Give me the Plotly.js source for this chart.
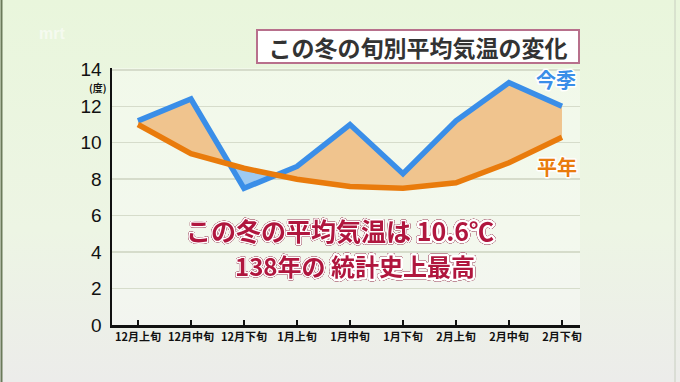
<!DOCTYPE html>
<html><head><meta charset="utf-8">
<script src="https://cdn.plot.ly/plotly-3.0.1.min.js"></script>
<style>
html,body{margin:0;padding:0;}
body{width:680px;height:382px;overflow:hidden;background:linear-gradient(to bottom,#e9f6dc 0%,#edf5e4 60%,#ececea 100%);}
#chart{width:680px;height:382px;}
</style></head>
<body><div id="chart"></div>
<script>
const categories = ['12月上旬','12月中旬','12月下旬','1月上旬','1月中旬','1月下旬','2月上旬','2月中旬','2月下旬'];
const thisSeason = [11.2, 12.4, 7.5, 8.7, 11.0, 8.3, 11.2, 13.3, 12.0];
const normal = [11.0, 9.4, 8.6, 8.0, 7.6, 7.5, 7.8, 8.9, 10.3];
const yTicks = [0, 2, 4, 6, 8, 10, 12, 14];
const seriesNames = ['今季', '平年'];

const idx = categories.map((c, i) => i);
// insert crossing points so the two fills meet exactly where the lines cross
const xa = [], ba = [], oa = [];
for (let i = 0; i < idx.length; i++) {
  xa.push(idx[i]); ba.push(thisSeason[i]); oa.push(normal[i]);
  if (i < idx.length - 1) {
    const d0 = thisSeason[i] - normal[i], d1 = thisSeason[i+1] - normal[i+1];
    if (d0 * d1 < 0) {
      const t = d0 / (d0 - d1);
      xa.push(idx[i] + t);
      const v = normal[i] + t * (normal[i+1] - normal[i]);
      ba.push(v); oa.push(v);
    }
  }
}
const upper = ba.map((b, i) => Math.max(b, oa[i]));
const lower = ba.map((b, i) => Math.min(b, oa[i]));

const CJK = '"Noto Sans CJK JP", sans-serif';
const traces = [
  {x: xa, y: oa, mode: 'lines', line: {width: 0}, hoverinfo: 'skip', showlegend: false},
  {x: xa, y: upper, mode: 'lines', line: {width: 0}, fill: 'tonexty', fillcolor: '#f0c48e', hoverinfo: 'skip', showlegend: false},
  {x: xa, y: oa, mode: 'lines', line: {width: 0}, hoverinfo: 'skip', showlegend: false},
  {x: xa, y: lower, mode: 'lines', line: {width: 0}, fill: 'tonexty', fillcolor: '#9ecaf2', hoverinfo: 'skip', showlegend: false},
  {x: idx, y: thisSeason, mode: 'lines', name: seriesNames[0], line: {color: '#3a8ee8', width: 5.5}, showlegend: false},
  {x: idx, y: normal, mode: 'lines', name: seriesNames[1], line: {color: '#e97b0c', width: 5.5}, showlegend: false}
];

const L = 112, R = 100, T = 68, B = 57, W = 680 - L - R, H = 382 - T - B;
const px = v => (v - L) / W;
const py = v => (382 - B - v) / H;
const outline = (s, w, c) => `<span style="stroke:${c||'#fff'};stroke-width:${w}px;paint-order:stroke;stroke-linejoin:round">${s}</span>`;
const ann = (x, y, text, font, extra) => Object.assign({xref: 'paper', yref: 'paper', x: px(x), y: py(y), xanchor: 'center', yanchor: 'middle', text, showarrow: false, font}, extra || {});

const layout = {
  width: 680, height: 382,
  margin: {l: L, r: R, t: T, b: B},
  paper_bgcolor: 'rgba(0,0,0,0)',
  plot_bgcolor: 'rgba(255,255,255,0.35)',
  xaxis: {
    range: [-0.49, 8.34], tickvals: idx, ticktext: categories,
    showgrid: false, zeroline: false, showline: true, linecolor: '#111', linewidth: 2.5,
    ticks: 'inside', ticklen: 5, tickwidth: 2, tickcolor: '#111',
    tickfont: {family: CJK, size: 11, color: '#111', weight: 700}, fixedrange: true
  },
  yaxis: {
    range: [0, 14.1], tickvals: yTicks, ticktext: yTicks.map(String),
    showgrid: true, gridcolor: '#d6dccb', gridwidth: 1.5, zeroline: false,
    showline: true, linecolor: '#111', linewidth: 2.5, ticks: '',
    tickfont: {family: 'Liberation Sans, Arial, sans-serif', size: 19, color: '#111'}, ticklabelstandoff: 4, fixedrange: true
  },
  annotations: [
    ann(418, 46.5, 'この冬の旬別平均気温の変化', {family: CJK, size: 23, color: '#333', weight: 700},
        {bgcolor: '#ffffff', bordercolor: '#b8708c', borderwidth: 2, borderpad: 1, width: 318, height: 29}),
    ann(98, 88, '(度)', {family: CJK, size: 10, color: '#111', weight: 700}),
    ann(556, 80, outline(seriesNames[0], 3), {family: CJK, size: 20, color: '#3a8ee8', weight: 700}),
    ann(557, 166, outline(seriesNames[1], 3), {family: CJK, size: 20, color: '#e97b0c', weight: 700}),
    ann(340, 230, outline('この冬の平均気温は ', 3) + outline('10.6℃', 5), {family: CJK, size: 25, color: '#b0163e', weight: 700}),
    ann(355, 265, outline('138年の ', 3) + outline('統計史上最高', 5), {family: CJK, size: 24, color: '#b0163e', weight: 700}),
    ann(52, 33, 'mrt', {family: 'Liberation Sans, Arial, sans-serif', size: 16, color: 'rgba(255,255,255,0.55)', weight: 700})
  ],
  shapes: [
    {type: 'line', xref: 'paper', yref: 'paper', x0: px(1.5), x1: px(1.5), y0: py(0), y1: py(382), line: {color: '#6b7a5a', width: 2}},
    {type: 'line', xref: 'paper', yref: 'paper', x0: px(675), x1: px(675), y0: py(0), y1: py(382), line: {color: '#c8cec0', width: 1}}
  ]
};
Plotly.newPlot('chart', traces, layout, {displayModeBar: false, staticPlot: true}).then(() => {
  document.querySelectorAll('g.annotation text.annotation-text').forEach(t => {
    const s = t.textContent;
    const isCaption = s.indexOf('10.6') >= 0 || s.indexOf('統計') >= 0;
    const isLabel = s === seriesNames[0] || s === seriesNames[1];
    if (!isCaption && !isLabel) return;
    t.querySelectorAll('tspan').forEach(ts => {
      ts.style.paintOrder = 'stroke';
      ts.style.stroke = '#ffffff';
      ts.style.strokeLinejoin = 'round';
      if (!ts.style.strokeWidth) ts.style.strokeWidth = '3px';
    });
    if (isCaption) t.style.filter = 'drop-shadow(0 0 0.7px #7a0a26) drop-shadow(0 0 0.5px #7a0a26)';
  });
});
</script>
</body></html>
